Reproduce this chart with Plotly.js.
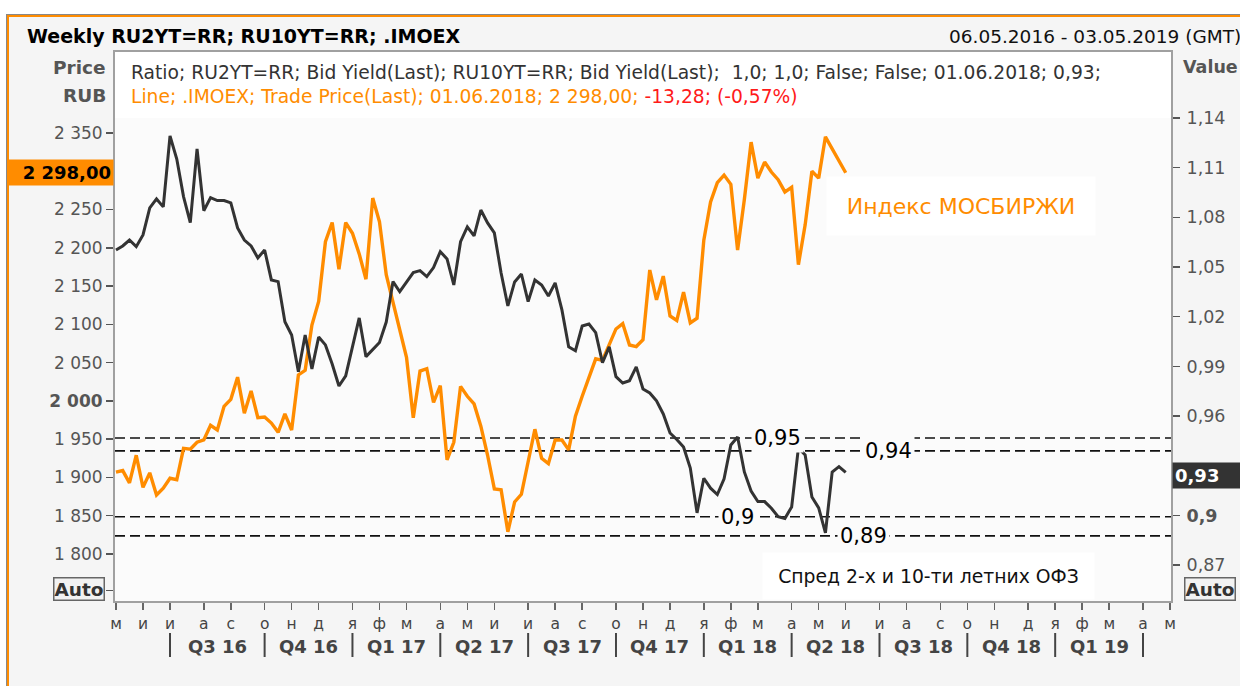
<!DOCTYPE html>
<html><head><meta charset="utf-8">
<script src="https://cdn.plot.ly/plotly-3.0.1.min.js"></script>
<style>html,body{margin:0;padding:0;background:#fff;}#chart{width:1240px;height:686px;}</style>
</head><body><div id="chart"></div>
<script>
// ---------- DATA ----------
const startDate = '2016-05-06';           // first weekly observation (Friday)
const imoex = [1907,1909,1893,1929,1887,1906,1877,1886,1899,1897,
1938,1937,1946,1949,1968,1962,1993,2002,2031,1984,
2013,1978,1979,1971,1959,1983,1962,2034,2040,2099,
2130,2208,2233,2172,2233,2219,2192,2159,2265,2234,
2165,2128,2093,2057,1978,2039,2042,1998,2020,1923,
1946,2019,2006,1996,1967,1929,1885,1884,1829,1868,
1878,1918,1963,1925,1918,1949,1949,1936,1980,2006,
2031,2055,2053,2074,2094,2101,2073,2071,2080,2171,
2132,2163,2111,2105,2142,2102,2108,2210,2260,2285,
2295,2283,2197,2263,2338,2291,2312,2299,2289,2273,
2279,2178,2230,2300,2291,2345,2330,2313,2298];
const spread = [1.0603,1.0627,1.0663,1.0623,1.0694,1.0857,1.0911,1.0863,1.1291,1.1152,
1.0925,1.0768,1.1213,1.0840,1.0919,1.0901,1.0901,1.0887,1.0736,1.0663,
1.0627,1.0555,1.0603,1.0422,1.0412,1.0170,1.0090,0.9868,1.0090,0.9885,
1.0078,1.0030,0.9915,0.9782,0.9843,1.0012,1.0193,0.9959,0.9999,1.0044,
1.0168,1.0412,1.0351,1.0410,1.0466,1.0478,1.0442,1.0497,1.0593,1.0549,
1.0392,1.0653,1.0742,1.0688,1.0844,1.0766,1.0706,1.0464,1.0265,1.0410,
1.0458,1.0291,1.0422,1.0392,1.0325,1.0404,1.0241,1.0018,0.9995,1.0144,
1.0156,1.0104,0.9923,1.0018,0.9838,0.9800,0.9814,0.9897,0.9764,0.9740,
0.9692,0.9613,0.9498,0.9459,0.9414,0.9287,0.9016,0.9225,0.9165,0.9127,
0.9221,0.9426,0.9474,0.9263,0.9148,0.9084,0.9084,0.9044,0.8993,0.8982,
0.9052,0.9408,0.9366,0.9112,0.9046,0.8895,0.9263,0.9295,0.9260];

const monthTickDates = ['2016-05-06','2016-06-03','2016-07-01','2016-08-05','2016-09-02','2016-10-07','2016-11-04','2016-12-02',
'2017-01-06','2017-02-03','2017-03-03','2017-04-07','2017-05-05','2017-06-02','2017-07-07','2017-08-04','2017-09-01','2017-10-06','2017-11-03','2017-12-01',
'2018-01-05','2018-02-02','2018-03-02','2018-04-06','2018-05-04','2018-06-01','2018-07-06','2018-08-03','2018-09-07','2018-10-05','2018-11-02','2018-12-07',
'2019-01-04','2019-02-01','2019-03-01','2019-04-05','2019-05-03'];
const monthTickText = ['м','и','и','а','с','о','н','д',
'я','ф','м','а','м','и','и','а','с','о','н','д',
'я','ф','м','а','м','и','и','а','с','о','н','д',
'я','ф','м','а','м'];
const quarterStarts = ['2016-07-01','2016-10-07','2017-01-06','2017-04-07','2017-07-07','2017-10-06',
'2018-01-05','2018-04-06','2018-07-06','2018-10-05','2019-01-04','2019-04-05'];
const quarterLabels = ['Q3 16','Q4 16','Q1 17','Q2 17','Q3 17','Q4 17','Q1 18','Q2 18','Q3 18','Q4 18','Q1 19'];

// (the 2 300 and 0,93 ticks sit under the current-value boxes, as in the reference)
const leftTickVals = [1752,1800,1850,1900,1950,2000,2050,2100,2150,2200,2250,2300,2350];
const leftTickText = ['','1 800','1 850','1 900','1 950','<b>2 000</b>','2 050','2 100','2 150','2 200','2 250','','2 350'];
const rightTickVals = [0.87,0.90,0.93,0.96,0.99,1.02,1.05,1.08,1.11,1.14];
const rightTickText = ['0,87','<b>0,9</b>','','0,96','0,99','1,02','1,05','1,08','1,11','1,14'];

const levelValues = [0.9468,0.9390,0.8993,0.8877];
const levelLabels = ['0,95','0,94','0,9','0,89'];

// ---------- HELPERS ----------
const F = 'DejaVu Sans';
const ORANGE = '#ff8c00';
const PLOTBG = '#fbfbfb';
const L = 115, R = 1171, T = 52, B = 601, W = 1240, H = 686;
const X = px => (px - L) / (R - L);
const Y = py => (B - py) / (B - T);

const dates = imoex.map((_, i) => {
  const d = new Date(startDate + 'T00:00:00Z');
  d.setUTCDate(d.getUTCDate() + 7 * i);
  return d.toISOString().slice(0, 10);
});

function fmt(v, dec) {
  const s = v.toFixed(dec).split('.');
  const ip = s[0].replace(/\B(?=(\d{3})+(?!\d))/g, ' ');
  return s.length > 1 ? ip + ',' + s[1] : ip;
}
function midDate(a, b) {
  const t = (Date.parse(a + 'T00:00:00Z') + Date.parse(b + 'T00:00:00Z')) / 2;
  return new Date(t).toISOString().slice(0, 19).replace('T', ' ');
}

// ---------- TRACES ----------
const traces = [
  {x: dates, y: imoex, type: 'scatter', mode: 'lines', yaxis: 'y',
   line: {color: ORANGE, width: 3.4}, hoverinfo: 'skip'},
  {x: dates, y: spread, type: 'scatter', mode: 'lines', yaxis: 'y2',
   line: {color: '#333333', width: 3}, hoverinfo: 'skip'}
];

// ---------- ANNOTATIONS ----------
const ann = [];
const txt = (text, xpx, ypx, opts) => Object.assign({
  text, xref: 'paper', yref: 'paper', x: X(xpx), y: Y(ypx), showarrow: false,
  xanchor: 'left', yanchor: 'middle', font: {family: F, size: 16, color: '#111'}
}, opts || {});

ann.push(txt('<b>Weekly RU2YT=RR; RU10YT=RR; .IMOEX</b>', 25, 36, {font: {family: F, size: 19, color: '#000'}}));
ann.push(txt('06.05.2016 - 03.05.2019 (GMT)', 1243, 36, {xanchor: 'right', font: {family: F, size: 18.5, color: '#111'}}));
ann.push(txt('<b>Price</b>', 108, 67, {xanchor: 'right', font: {family: F, size: 18.5, color: '#555'}}));
ann.push(txt('<b>RUB</b>', 108, 95, {xanchor: 'right', font: {family: F, size: 18.5, color: '#555'}}));
ann.push(txt('<b>Value</b>', 1181, 67, {font: {family: F, size: 17.5, color: '#555'}}));
ann.push(txt('Ratio; RU2YT=RR; Bid Yield(Last); RU10YT=RR; Bid Yield(Last);  1,0; 1,0; False; False; 01.06.2018; 0,93;',
  129, 72, {font: {family: F, size: 18.7, color: '#333'}}));
ann.push(txt('Line; .IMOEX; Trade Price(Last); 01.06.2018; 2 298,00; <span style="color:#ff1a1a">-13,28; (-0,57%)</span>',
  129, 97, {font: {family: F, size: 18.7, color: ORANGE}}));

// current value boxes
ann.push({text: '<b>' + fmt(imoex[imoex.length - 1], 2) + '</b>', xref: 'paper', yref: 'y',
  x: X(114), y: imoex[imoex.length - 1], xanchor: 'right', yanchor: 'middle', showarrow: false,
  bgcolor: ORANGE, width: 100, align: 'right', borderpad: 2,
  font: {family: F, size: 18, color: '#000'}});
ann.push({text: '<b>' + fmt(spread[spread.length - 1], 2) + '</b>', xref: 'paper', yref: 'y2',
  x: X(1172), y: spread[spread.length - 1], yshift: -3, xanchor: 'left', yanchor: 'middle', showarrow: false,
  bgcolor: '#333333', width: 70, align: 'left', borderpad: 2,
  font: {family: F, size: 18, color: '#fff'}});

// Auto boxes
ann.push(txt('<b>Auto</b>', 105, 588.5, {xanchor: 'right', bgcolor: '#f2f2f2', bordercolor: '#666', borderwidth: 1.5, borderpad: 0,
  font: {family: F, size: 18.5, color: '#333'}}));
ann.push(txt('<b>Auto</b>', 1184, 588.5, {bgcolor: '#f2f2f2', bordercolor: '#666', borderwidth: 1.5, borderpad: 0,
  font: {family: F, size: 18.5, color: '#333'}}));

// level labels
const levelLabelX = [777, 888, 737, 863];
levelValues.forEach((v, i) => {
  ann.push({text: levelLabels[i], xref: 'paper', yref: 'y2', x: X(levelLabelX[i]), y: v,
    xanchor: 'center', yanchor: 'middle', showarrow: false, bgcolor: PLOTBG, borderpad: 2,
    font: {family: F, size: 21, color: '#000'}});
});

// text boxes inside plot
ann.push(txt('Индекс МОСБИРЖИ', 961, 206, {xanchor: 'center', bgcolor: '#ffffff', width: 268, height: 58, borderpad: 0,
  font: {family: F, size: 22, color: ORANGE}}));
ann.push(txt('Спред 2-х и 10-ти летних ОФЗ', 928, 576, {xanchor: 'center', bgcolor: '#ffffff', width: 331, height: 46, borderpad: 0,
  font: {family: F, size: 18.8, color: '#111'}}));

// quarter labels
quarterLabels.forEach((q, i) => {
  ann.push({text: '<b>' + q + '</b>', xref: 'x', yref: 'paper', x: midDate(quarterStarts[i], quarterStarts[i + 1]),
    y: 0, yshift: -(646 - B), xanchor: 'center', yanchor: 'middle', showarrow: false,
    font: {family: F, size: 18, color: '#444'}});
});

// ---------- SHAPES ----------
const shapes = [];
// white outside border area
shapes.push({type: 'rect', xref: 'paper', yref: 'paper', x0: X(0), x1: X(W), y0: Y(14), y1: Y(0), fillcolor: '#fff', line: {width: 0}});
shapes.push({type: 'rect', xref: 'paper', yref: 'paper', x0: X(0), x1: X(6), y0: Y(H), y1: Y(0), fillcolor: '#fff', line: {width: 0}});
// border lines (grey + orange)
shapes.push({type: 'line', xref: 'paper', yref: 'paper', x0: X(6), x1: X(W), y0: Y(14.5), y1: Y(14.5), line: {color: '#888', width: 1}});
shapes.push({type: 'line', xref: 'paper', yref: 'paper', x0: X(7), x1: X(W), y0: Y(16), y1: Y(16), line: {color: ORANGE, width: 2}});
shapes.push({type: 'line', xref: 'paper', yref: 'paper', x0: X(6.5), x1: X(6.5), y0: Y(H), y1: Y(14.5), line: {color: '#888', width: 1}});
shapes.push({type: 'line', xref: 'paper', yref: 'paper', x0: X(8), x1: X(8), y0: Y(H), y1: Y(15), line: {color: ORANGE, width: 2}});
// white legend strip at top of plot
shapes.push({type: 'rect', xref: 'paper', yref: 'paper', x0: 0, x1: 1, y0: Y(118), y1: 1, fillcolor: '#ffffff', line: {width: 0}, layer: 'below'});
// quarter separators
quarterStarts.forEach(d => {
  shapes.push({type: 'line', xref: 'x', yref: 'paper', x0: d, x1: d, y0: Y(633), y1: Y(657), line: {color: '#444', width: 2}});
});
// dashed levels
levelValues.forEach(v => {
  shapes.push({type: 'line', xref: 'paper', yref: 'y2', x0: 0, x1: 1, y0: v, y1: v, layer: 'below',
    line: {color: '#111', width: 1.6, dash: '10px,5px'}});
});

// ---------- LAYOUT ----------
const axLine = {showline: true, linecolor: '#a0a0a0', linewidth: 2, zeroline: false, showgrid: false, fixedrange: true};
const layout = {
  width: W, height: H,
  margin: {l: L, r: W - R, t: T, b: H - B, pad: 0},
  paper_bgcolor: '#f5f5f5', plot_bgcolor: PLOTBG,
  showlegend: false, hovermode: false,
  xaxis: Object.assign({}, axLine, {type: 'date', range: ['2016-05-05', '2019-05-04'], mirror: true,
    tickmode: 'array', tickvals: monthTickDates, ticktext: monthTickText,
    ticks: 'outside', ticklen: 7, tickwidth: 1.5, tickcolor: '#666',
    tickfont: {family: F, size: 15.5, color: '#444'}}),
  yaxis: Object.assign({}, axLine, {range: [1738.6, 2455.8], tickmode: 'array', tickvals: leftTickVals, ticktext: leftTickText,
    ticks: 'outside', ticklen: 7, tickwidth: 1.5, tickcolor: '#555',
    tickfont: {family: F, size: 17, color: '#555'}}),
  yaxis2: Object.assign({}, axLine, {range: [0.8484, 1.1798], overlaying: 'y', side: 'right',
    tickmode: 'array', tickvals: rightTickVals, ticktext: rightTickText,
    ticks: 'outside', ticklen: 7, tickwidth: 1.5, tickcolor: '#555', ticklabelstandoff: 3,
    tickfont: {family: F, size: 17.5, color: '#555'}}),
  annotations: ann,
  shapes: shapes
};

Plotly.newPlot('chart', traces, layout, {staticPlot: true, displayModeBar: false});
</script>
</body></html>
